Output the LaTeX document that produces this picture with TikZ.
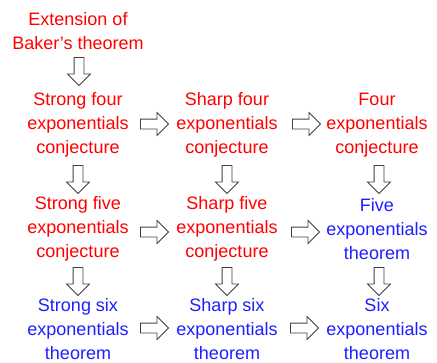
\documentclass[tikz,border=0pt]{standalone}
\usepackage{fontspec}
\setmainfont{Liberation Sans}
\usetikzlibrary{shapes.arrows}
\definecolor{cred}{RGB}{255,0,0}
\definecolor{cblue}{RGB}{30,30,255}
\tikzset{
  lbl/.style={align=center, inner sep=0pt, font=\fontsize{18}{24}\selectfont},
  conj/.style={lbl, text=cred},
  thm/.style={lbl, text=cblue},
  barrow/.style={single arrow, draw=black!75, fill=white, line width=0.8pt,
    minimum height=28pt, minimum width=22pt, single arrow head extend=6.5pt,
    single arrow head indent=0pt, inner xsep=0pt, inner ysep=4.5pt},
}
\begin{document}
\begin{tikzpicture}[x=1pt,y=-1pt]
\useasboundingbox (0,0) rectangle (437,362);
\node[conj] (ext) at (78,31) {Extension of\\Baker's theorem};
\node[conj] (s4) at (78,125) {Strong four\\exponentials\\conjecture};
\node[conj] (h4) at (227,125) {Sharp four\\exponentials\\conjecture};
\node[conj] (f4) at (377,125) {Four\\exponentials\\conjecture};
\node[conj] (s5) at (78,229) {Strong five\\exponentials\\conjecture};
\node[conj] (h5) at (227,229) {Sharp five\\exponentials\\conjecture};
\node[thm] (f5) at (377,229) {Five\\exponentials\\theorem};
\node[thm] (s6) at (78,329) {Strong six\\exponentials\\theorem};
\node[thm] (h6) at (227,329) {Sharp six\\exponentials\\theorem};
\node[thm] (f6) at (377,329) {Six\\exponentials\\theorem};
% down arrows
\node[barrow, rotate=-90] (d0) at (79,69) {};
\node[barrow, rotate=-90] (d1) at (78,177) {};
\node[barrow, rotate=-90] (d2) at (227,177) {};
\node[barrow, rotate=-90] (d3) at (379,177) {};
\node[barrow, rotate=-90] (d4) at (78,279) {};
\node[barrow, rotate=-90] (d5) at (227,279) {};
\node[barrow, rotate=-90] (d6) at (379,279) {};
% right arrows
\node[barrow] (r1) at (152,124) {};
\node[barrow] (r2) at (304,124) {};
\node[barrow] (r3) at (152,232) {};
\node[barrow] (r4) at (303,232) {};
\node[barrow] (r5) at (152,328) {};
\node[barrow] (r6) at (302,328) {};
\end{tikzpicture}
\end{document}
